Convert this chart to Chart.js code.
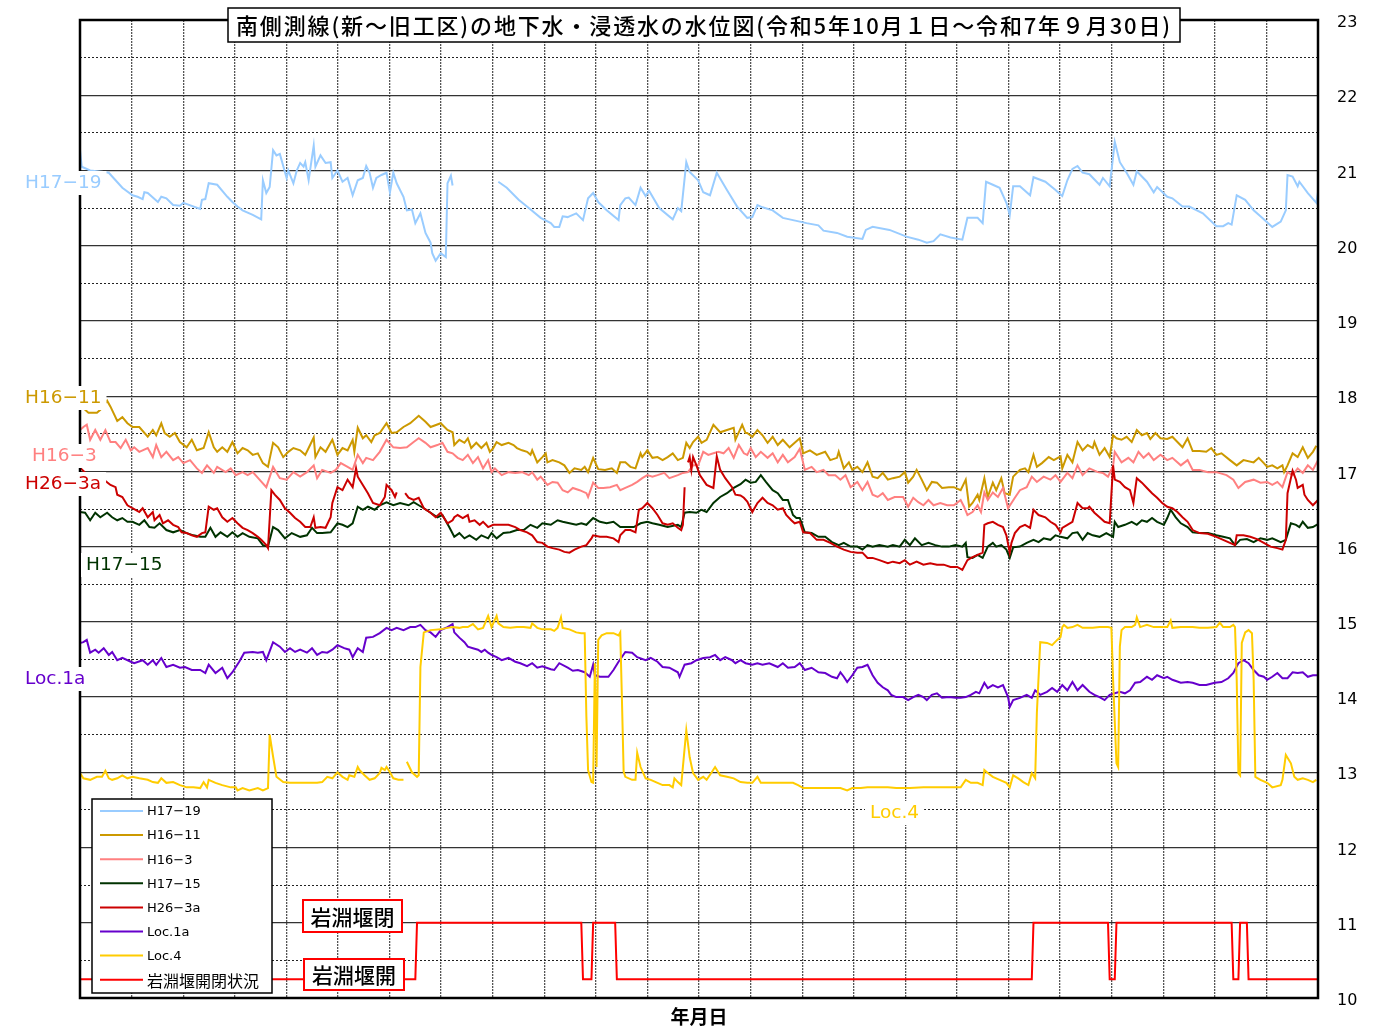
<!DOCTYPE html>
<html lang="ja">
<head>
<meta charset="utf-8">
<title>南側測線 地下水・浸透水の水位図</title>
<script src="https://cdn.jsdelivr.net/npm/chart.js@4.4.1/dist/chart.umd.min.js"></script>
<style>
    html, body { margin: 0; padding: 0; background: #fff; overflow: hidden; }
    .chart-box { position: relative; width: 1383px; height: 1034px; }
</style>
</head>
<body>
<div class="chart-box"><canvas id="waterLevelChart"></canvas></div>
<script>
// x = 経過日数 (令和5年10月1日 = 0 ～ 令和7年9月30日 = 730), y = 水位
const periodDays = 731;
const monthCount = 24;
const levelMin = 10;
const levelMax = 23;
const levelStep = 0.5;

const chartTitle = '南側測線(新～旧工区)の地下水・浸透水の水位図(令和5年10月１日～令和7年９月30日)';
const axisTitle = '年月日';
const seriesNames = ['H17−19', 'H16−11', 'H16−3', 'H17−15', 'H26−3a', 'Loc.1a', 'Loc.4', '岩淵堰開閉状況'];

const h1719 = [
    [0,21.27],[1,21.05],[6,21.0],[14,20.98],[17,20.97],[21,20.87],[25,20.77],[31,20.67],[34,20.65],[37,20.62],
    [38,20.71],[40,20.7],[46,20.58],[48,20.65],[51,20.63],[55,20.54],[59,20.53],[61,20.57],[71,20.49],[72,20.61],
    [74,20.62],[76,20.83],[81,20.81],[87,20.65],[90,20.58],[93,20.52],[96,20.47],[102,20.41],[107,20.35],[108,20.87],
    [110,20.7],[112,20.78],[114,21.27],[116,21.2],[118,21.22],[122,20.9],[123,21.0],[126,20.83],[128,21.0],[130,21.1],
    [132,21.05],[133,21.11],[135,20.87],[138,21.33],[139,21.05],[142,21.2],[145,21.1],[148,21.11],[149,20.9],[152,21.0],
    [155,20.85],[158,20.9],[161,20.67],[164,20.87],[167,20.9],[169,21.06],[171,20.97],[173,20.77],[175,20.9],[178,20.94],
    [181,20.97],[183,20.71],[185,20.97],[187,20.83],[191,20.65],[193,20.47],[196,20.48],[198,20.3],[201,20.43],[204,20.17],
    [207,20.04],[208,19.9],[210,19.8],[213,19.9],[216,19.85],[217,20.83],[219,20.93],[220,20.8],[233,null],[247,20.85],
    [252,20.77],[259,20.61],[265,20.5],[272,20.37],[278,20.3],[280,20.25],[283,20.25],[285,20.39],[288,20.38],[289,20.39],
    [293,20.43],[297,20.34],[300,20.63],[303,20.7],[306,20.58],[311,20.47],[318,20.34],[319,20.54],[322,20.63],[324,20.64],
    [328,20.54],[331,20.77],[334,20.66],[336,20.73],[342,20.5],[350,20.35],[353,20.5],[355,20.46],[358,21.11],[360,20.98],
    [365,20.87],[368,20.71],[372,20.67],[376,20.97],[382,20.74],[388,20.52],[394,20.37],[397,20.38],[400,20.54],[403,20.51],
    [409,20.47],[415,20.37],[423,20.33],[429,20.3],[436,20.27],[439,20.2],[447,20.17],[453,20.12],[462,20.09],[464,20.21],
    [468,20.25],[478,20.21],[488,20.12],[495,20.08],[500,20.04],[504,20.06],[508,20.15],[514,20.11],[521,20.08],[524,20.37],
    [530,20.37],[533,20.3],[535,20.85],[539,20.81],[543,20.77],[547,20.57],[549,20.41],[551,20.79],[555,20.79],[561,20.67],
    [563,20.91],[570,20.85],[576,20.74],[580,20.66],[583,20.87],[586,21.02],[589,21.06],[592,20.97],[596,20.95],[602,20.81],
    [604,20.9],[608,20.79],[611,21.38],[614,21.11],[618,20.97],[622,20.81],[624,20.99],[630,20.85],[634,20.71],[636,20.78],
    [642,20.65],[645,20.63],[651,20.52],[655,20.52],[663,20.43],[671,20.26],[675,20.26],[678,20.3],[680,20.28],[683,20.67],
    [688,20.61],[693,20.47],[698,20.37],[704,20.25],[709,20.32],[712,20.47],[713,20.94],[716,20.92],[719,20.79],[720,20.85],
    [725,20.7],[730,20.57],[731,20.71]
];

const h1611 = [
    [0,17.88],[5,17.78],[10,17.78],[12,17.82],[16,17.94],[18,17.86],[22,17.67],[25,17.72],[28,17.64],[31,17.59],
    [35,17.59],[40,17.46],[43,17.55],[45,17.48],[48,17.64],[50,17.51],[53,17.46],[56,17.51],[59,17.39],[63,17.32],
    [66,17.42],[69,17.28],[73,17.31],[76,17.52],[79,17.32],[81,17.26],[84,17.32],[87,17.26],[90,17.39],[93,17.24],
    [96,17.31],[99,17.28],[102,17.22],[105,17.24],[108,17.11],[111,17.06],[114,17.38],[117,17.32],[120,17.19],[123,17.26],
    [126,17.31],[130,17.28],[133,17.22],[135,17.31],[138,17.45],[139,17.19],[142,17.32],[145,17.26],[149,17.42],[152,17.22],
    [155,17.31],[158,17.28],[161,17.42],[162,17.26],[164,17.58],[167,17.44],[169,17.48],[172,17.39],[174,17.48],[177,17.51],
    [181,17.64],[184,17.51],[187,17.52],[191,17.59],[195,17.64],[200,17.74],[204,17.66],[207,17.59],[213,17.64],[217,17.55],
    [220,17.52],[221,17.35],[224,17.42],[227,17.38],[229,17.44],[231,17.31],[234,17.38],[237,17.31],[240,17.38],[242,17.26],
    [244,17.31],[246,17.39],[249,17.35],[253,17.38],[256,17.35],[258,17.31],[261,17.28],[264,17.26],[266,17.22],[267,17.28],
    [270,17.12],[273,17.19],[275,17.24],[276,17.12],[279,17.15],[283,17.12],[286,17.08],[289,16.98],[292,17.04],[296,17.02],
    [298,17.06],[300,16.99],[303,17.18],[306,17.03],[310,17.02],[314,17.04],[317,16.98],[319,17.12],[322,17.12],[325,17.06],
    [328,17.04],[331,17.24],[332,17.19],[335,17.28],[338,17.18],[341,17.19],[344,17.15],[347,17.19],[350,17.24],[353,17.15],
    [356,17.18],[358,17.38],[360,17.31],[362,17.39],[365,17.46],[367,17.38],[370,17.42],[374,17.62],[378,17.52],[382,17.55],
    [386,17.58],[387,17.42],[391,17.62],[393,17.51],[394,17.51],[397,17.46],[400,17.55],[403,17.48],[406,17.38],[409,17.46],
    [412,17.35],[415,17.42],[419,17.32],[422,17.38],[425,17.44],[427,17.24],[431,17.28],[435,17.22],[440,17.26],[443,17.15],
    [447,17.18],[448,17.26],[451,17.04],[454,17.12],[456,17.02],[459,17.06],[462,16.99],[465,17.12],[468,16.93],[471,16.91],
    [474,16.98],[477,16.89],[480,16.91],[484,16.93],[487,16.99],[489,16.85],[492,16.93],[494,17.02],[497,16.89],[500,16.75],
    [503,16.86],[506,16.85],[509,16.78],[513,16.79],[516,16.79],[520,16.75],[523,16.89],[525,16.53],[527,16.58],[530,16.69],
    [531,16.62],[534,16.91],[536,16.66],[539,16.85],[541,16.75],[544,16.91],[546,16.71],[549,16.69],[551,16.93],[555,17.02],
    [558,17.04],[560,16.99],[563,17.22],[565,17.06],[568,17.11],[572,17.19],[575,17.15],[579,17.2],[580,17.04],[583,17.22],
    [586,17.12],[589,17.39],[592,17.28],[595,17.35],[598,17.31],[599,17.39],[602,17.22],[605,17.31],[608,17.19],[610,17.48],
    [612,17.44],[615,17.42],[618,17.46],[621,17.39],[624,17.55],[627,17.48],[630,17.51],[632,17.43],[635,17.51],[638,17.44],
    [642,17.43],[645,17.46],[648,17.39],[651,17.32],[654,17.44],[657,17.27],[661,17.27],[665,17.26],[668,17.31],[671,17.22],
    [674,17.24],[679,17.15],[683,17.08],[687,17.15],[693,17.12],[696,17.18],[699,17.11],[701,17.06],[704,17.08],[707,17.04],
    [710,17.08],[711,16.99],[713,17.08],[716,17.24],[719,17.19],[722,17.32],[725,17.18],[728,17.26],[730,17.34]
];

const h163 = [
    [0,17.55],[2,17.59],[4,17.62],[6,17.42],[9,17.55],[12,17.42],[15,17.55],[18,17.39],[21,17.39],[24,17.31],
    [27,17.42],[30,17.28],[32,17.32],[35,17.26],[40,17.31],[43,17.19],[45,17.35],[48,17.19],[51,17.26],[55,17.15],
    [58,17.19],[61,17.11],[65,17.15],[69,17.04],[72,16.98],[75,17.08],[79,16.98],[81,17.06],[86,16.99],[89,17.04],
    [92,16.95],[96,16.99],[99,16.95],[102,16.99],[106,16.89],[110,16.79],[114,17.06],[118,16.91],[122,16.89],[126,16.99],
    [130,16.93],[134,16.99],[138,17.08],[140,16.91],[143,17.02],[148,16.98],[151,17.02],[154,17.11],[158,17.06],[161,17.02],
    [164,17.22],[167,17.11],[169,17.18],[173,17.15],[177,17.26],[181,17.42],[185,17.32],[189,17.31],[193,17.32],[197,17.39],
    [200,17.44],[204,17.38],[207,17.32],[211,17.35],[214,17.38],[217,17.26],[220,17.24],[223,17.18],[226,17.15],[229,17.22],
    [232,17.11],[235,17.19],[238,17.04],[241,17.15],[243,16.99],[245,17.04],[249,16.95],[253,16.99],[257,16.98],[261,16.99],
    [265,16.95],[267,16.99],[270,16.89],[272,16.93],[276,16.82],[279,16.86],[282,16.85],[285,16.75],[288,16.72],[291,16.78],
    [295,16.75],[299,16.71],[300,16.66],[303,16.85],[306,16.78],[309,16.78],[313,16.79],[317,16.82],[319,16.75],[322,16.78],
    [326,16.82],[329,16.86],[332,16.91],[335,16.95],[338,16.93],[341,16.95],[345,16.98],[348,16.91],[353,16.95],[356,16.98],
    [359,16.99],[362,17.08],[365,17.08],[368,17.26],[371,17.22],[374,17.24],[377,17.26],[380,17.24],[383,17.31],[386,17.18],
    [389,17.35],[392,17.24],[394,17.22],[396,17.31],[399,17.19],[402,17.26],[406,17.18],[409,17.24],[412,17.12],[415,17.22],
    [418,17.12],[422,17.19],[425,17.3],[428,17.02],[432,17.06],[435,16.99],[439,17.02],[442,16.95],[446,16.95],[449,16.89],
    [452,16.95],[455,16.79],[459,16.86],[462,16.75],[465,16.86],[468,16.69],[471,16.66],[474,16.71],[477,16.62],[481,16.66],
    [486,16.66],[489,16.53],[492,16.65],[495,16.59],[498,16.55],[501,16.62],[504,16.55],[508,16.58],[512,16.55],[516,16.55],
    [520,16.62],[522,16.53],[524,16.42],[527,16.46],[530,16.55],[532,16.46],[534,16.72],[536,16.62],[539,16.72],[542,16.66],
    [545,16.78],[548,16.51],[552,16.65],[555,16.75],[559,16.79],[562,16.93],[565,16.86],[569,16.93],[573,16.89],[576,16.95],
    [579,16.86],[583,16.98],[586,16.91],[589,17.08],[592,16.95],[596,17.04],[601,16.99],[604,16.98],[607,16.93],[610,17.07],
    [611,17.26],[615,17.12],[619,17.18],[622,17.12],[625,17.26],[628,17.18],[631,17.24],[634,17.15],[638,17.22],[642,17.15],
    [645,17.18],[650,17.08],[654,17.15],[657,17.02],[661,17.02],[666,16.99],[671,16.99],[677,16.95],[681,16.89],[684,16.78],
    [688,16.86],[693,16.89],[697,16.85],[701,16.86],[704,16.82],[707,16.86],[710,16.79],[713,16.99],[716,16.95],[719,17.04],
    [722,16.98],[725,17.08],[728,17.02],[731,17.15]
];

const h1715 = [
    [0,16.46],[3,16.45],[6,16.35],[9,16.45],[12,16.39],[16,16.45],[19,16.39],[22,16.35],[25,16.38],[28,16.33],
    [31,16.33],[35,16.29],[38,16.35],[41,16.26],[44,16.25],[47,16.31],[51,16.22],[55,16.19],[59,16.22],[63,16.18],
    [67,16.15],[71,16.13],[74,16.13],[77,16.25],[80,16.13],[83,16.19],[87,16.13],[90,16.19],[93,16.13],[96,16.18],
    [100,16.13],[105,16.11],[108,16.02],[111,16.0],[114,16.26],[117,16.22],[121,16.11],[125,16.18],[130,16.13],[134,16.15],
    [137,16.25],[140,16.18],[143,16.18],[148,16.19],[152,16.31],[155,16.29],[158,16.26],[161,16.31],[164,16.53],[167,16.49],
    [170,16.53],[174,16.49],[177,16.55],[181,16.59],[185,16.55],[189,16.58],[194,16.55],[197,16.59],[200,16.55],[203,16.51],
    [207,16.45],[211,16.39],[214,16.42],[218,16.26],[221,16.13],[224,16.18],[227,16.11],[230,16.15],[234,16.09],[237,16.15],
    [241,16.11],[243,16.18],[246,16.11],[250,16.18],[254,16.19],[258,16.22],[262,16.22],[266,16.29],[270,16.25],[273,16.31],
    [278,16.29],[282,16.35],[285,16.33],[289,16.31],[293,16.29],[296,16.31],[299,16.29],[303,16.38],[307,16.33],[311,16.31],
    [315,16.33],[319,16.26],[323,16.26],[327,16.26],[331,16.31],[335,16.33],[338,16.31],[342,16.29],[347,16.26],[353,16.29],
    [355,16.26],[357,16.45],[360,16.46],[364,16.45],[367,16.49],[370,16.46],[374,16.58],[378,16.66],[382,16.71],[386,16.78],
    [390,16.83],[393,16.89],[396,16.85],[399,16.86],[402,16.95],[405,16.86],[409,16.75],[412,16.71],[415,16.62],[418,16.62],
    [421,16.42],[423,16.38],[425,16.38],[428,16.19],[432,16.18],[436,16.13],[440,16.13],[444,16.06],[448,16.02],[451,16.05],
    [455,16.0],[459,16.0],[462,15.96],[465,16.02],[468,16.0],[472,16.02],[477,16.0],[480,16.02],[484,16.0],[487,16.09],
    [490,16.02],[493,16.11],[497,16.02],[501,16.05],[505,16.02],[509,16.0],[513,16.0],[517,16.02],[521,16.0],[523,16.05],
    [524,15.86],[527,15.85],[530,15.89],[533,15.85],[536,16.0],[539,16.05],[541,16.0],[544,16.02],[547,15.96],[549,15.85],
    [551,15.99],[555,16.0],[559,16.05],[563,16.09],[566,16.06],[569,16.11],[573,16.09],[576,16.15],[579,16.13],[583,16.11],
    [586,16.18],[589,16.19],[592,16.09],[595,16.18],[598,16.15],[602,16.13],[606,16.18],[610,16.13],[611,16.33],[613,16.26],
    [617,16.29],[621,16.33],[624,16.29],[627,16.35],[630,16.33],[633,16.38],[636,16.33],[640,16.29],[642,16.38],[644,16.49],
    [647,16.39],[650,16.31],[654,16.26],[657,16.19],[661,16.18],[666,16.18],[671,16.15],[675,16.13],[679,16.11],[682,16.02],
    [685,16.09],[689,16.1],[693,16.06],[697,16.11],[701,16.09],[704,16.11],[709,16.06],[712,16.09],[715,16.31],[718,16.29],
    [720,16.26],[722,16.33],[725,16.25],[728,16.26],[731,16.3]
];

const h263a = [
    [0,17.05],[7,16.9],[12,16.85],[14,16.89],[18,16.82],[21,16.79],[22,16.69],[25,16.66],[28,16.55],[31,16.51],
    [35,16.46],[37,16.51],[40,16.39],[43,16.46],[44,16.35],[47,16.42],[49,16.31],[52,16.35],[55,16.29],[58,16.26],
    [60,16.19],[63,16.18],[66,16.15],[69,16.13],[72,16.18],[74,16.19],[76,16.53],[79,16.49],[81,16.51],[84,16.39],
    [87,16.33],[90,16.38],[93,16.31],[96,16.25],[99,16.22],[102,16.18],[105,16.13],[107,16.09],[110,16.02],[111,15.98],
    [113,16.75],[115,16.69],[118,16.62],[121,16.51],[124,16.45],[127,16.38],[130,16.33],[133,16.26],[136,16.26],[138,16.39],
    [139,16.25],[142,16.26],[145,16.25],[148,16.39],[149,16.58],[152,16.79],[155,16.75],[158,16.89],[161,16.79],[163,17.04],
    [164,16.93],[167,16.82],[170,16.71],[173,16.58],[177,16.55],[180,16.66],[181,16.82],[184,16.75],[186,16.66],[187,16.72],
    [189,null],[192,16.71],[194,16.65],[197,16.62],[200,16.65],[203,16.51],[207,16.45],[210,16.39],[213,16.45],[217,16.31],
    [220,16.35],[221,16.39],[223,16.42],[226,16.38],[229,16.42],[230,16.33],[233,16.35],[236,16.29],[238,16.33],[241,16.26],
    [244,16.29],[248,16.29],[253,16.29],[257,16.26],[260,16.22],[264,16.19],[267,16.15],[270,16.06],[273,16.05],[276,16.0],
    [279,15.98],[283,15.96],[286,15.93],[289,15.92],[292,15.96],[296,16.0],[299,16.02],[302,16.11],[303,16.15],[307,16.13],
    [311,16.13],[315,16.11],[318,16.06],[319,16.15],[322,16.22],[325,16.22],[328,16.19],[330,16.49],[332,16.51],[335,16.58],
    [338,16.51],[341,16.42],[344,16.31],[347,16.29],[350,16.31],[353,16.25],[355,16.22],[356,16.29],[357,16.79],[358,null],
    [359,17.12],[360,17.19],[361,17.02],[362,17.19],[364,17.08],[366,16.95],[370,16.82],[374,16.78],[376,17.2],[378,17.02],
    [381,16.91],[385,16.79],[387,16.69],[390,16.68],[392,16.65],[394,16.6],[397,16.46],[400,16.58],[403,16.65],[406,16.58],
    [409,16.55],[412,16.49],[415,16.51],[417,16.42],[420,16.35],[422,16.31],[425,16.33],[427,16.19],[431,16.18],[435,16.09],
    [439,16.09],[443,16.05],[447,16.0],[451,15.96],[455,15.93],[459,15.92],[462,15.92],[465,15.85],[468,15.85],[472,15.82],
    [477,15.78],[480,15.8],[484,15.78],[487,15.82],[490,15.76],[494,15.8],[498,15.76],[502,15.78],[506,15.76],[510,15.76],
    [514,15.73],[518,15.73],[521,15.69],[524,15.82],[527,15.86],[530,15.89],[533,15.92],[534,16.29],[536,16.31],[539,16.33],
    [542,16.29],[545,16.26],[547,16.15],[549,15.92],[550,16.05],[552,16.18],[555,16.26],[558,16.29],[561,16.25],[563,16.49],
    [566,16.42],[570,16.39],[573,16.33],[576,16.29],[579,16.19],[580,16.25],[583,16.29],[586,16.33],[589,16.58],[592,16.51],
    [595,16.51],[596,16.53],[599,16.45],[602,16.39],[605,16.33],[608,16.31],[610,17.08],[611,16.89],[614,16.86],[617,16.79],
    [620,16.75],[622,16.58],[624,16.91],[627,16.85],[630,16.78],[633,16.71],[636,16.65],[639,16.58],[642,16.53],[645,16.51],
    [648,16.46],[651,16.39],[654,16.33],[657,16.22],[661,16.18],[666,16.17],[671,16.13],[675,16.09],[679,16.05],[682,16.02],
    [683,16.15],[687,16.15],[691,16.13],[695,16.1],[699,16.05],[703,16.0],[707,15.98],[710,15.96],[712,16.09],[713,16.71],
    [716,17.01],[718,16.89],[719,16.78],[722,16.82],[723,16.69],[725,16.62],[728,16.55],[731,16.62]
];

const loc1a = [
    [0,14.72],[2,14.73],[4,14.76],[6,14.59],[9,14.63],[11,14.59],[14,14.65],[17,14.56],[19,14.6],[22,14.49],
    [25,14.52],[30,14.47],[32,14.45],[37,14.49],[40,14.43],[43,14.49],[45,14.43],[48,14.52],[51,14.4],[55,14.43],
    [59,14.39],[62,14.4],[66,14.36],[71,14.36],[74,14.32],[76,14.43],[80,14.32],[84,14.39],[87,14.25],[90,14.33],
    [94,14.47],[97,14.59],[102,14.6],[105,14.59],[108,14.6],[110,14.49],[114,14.73],[118,14.67],[121,14.6],[124,14.65],
    [127,14.6],[130,14.63],[134,14.59],[137,14.65],[140,14.56],[143,14.6],[146,14.59],[149,14.63],[152,14.69],[156,14.65],
    [159,14.63],[161,14.53],[164,14.65],[167,14.6],[169,14.79],[173,14.8],[177,14.85],[181,14.92],[184,14.89],[187,14.92],
    [191,14.89],[195,14.93],[198,14.93],[201,14.96],[204,14.89],[207,14.86],[210,14.8],[213,14.89],[217,14.93],[220,14.97],
    [221,14.86],[224,14.79],[227,14.73],[229,14.67],[232,14.65],[235,14.63],[237,14.6],[239,14.63],[241,14.59],[243,14.56],
    [246,14.53],[249,14.49],[253,14.52],[257,14.47],[260,14.45],[264,14.41],[267,14.45],[270,14.39],[273,14.41],[278,14.37],
    [280,14.36],[283,14.45],[288,14.39],[291,14.35],[294,14.36],[298,14.33],[301,14.27],[303,14.43],[304,14.29],[307,14.27],
    [312,14.27],[315,14.36],[318,14.47],[322,14.6],[326,14.59],[329,14.53],[334,14.49],[337,14.52],[341,14.47],[344,14.4],
    [348,14.39],[353,14.33],[354,14.27],[357,14.43],[361,14.45],[364,14.49],[368,14.52],[372,14.53],[375,14.56],[378,14.49],
    [381,14.53],[385,14.49],[387,14.45],[390,14.49],[393,14.45],[397,14.43],[400,14.45],[403,14.43],[407,14.45],[412,14.4],
    [415,14.45],[418,14.39],[422,14.4],[425,14.45],[428,14.36],[432,14.39],[436,14.33],[440,14.32],[444,14.27],[447,14.25],
    [449,14.33],[451,14.27],[453,14.2],[456,14.29],[459,14.39],[462,14.4],[465,14.43],[468,14.29],[471,14.19],[474,14.13],
    [477,14.09],[479,14.03],[482,14.0],[486,14.0],[489,13.96],[492,14.0],[495,14.03],[498,14.0],[500,13.96],[503,14.03],
    [506,14.05],[509,13.99],[513,14.0],[517,13.99],[520,13.99],[523,14.0],[526,14.03],[529,14.07],[531,14.05],[534,14.19],
    [536,14.12],[539,14.16],[542,14.13],[545,14.16],[548,14.0],[549,13.87],[551,13.96],[555,13.99],[559,14.03],[562,13.99],
    [564,14.09],[567,14.03],[571,14.07],[574,14.12],[577,14.07],[580,14.16],[583,14.09],[586,14.2],[589,14.09],[592,14.16],
    [596,14.07],[599,14.03],[602,14.0],[605,13.96],[608,14.03],[611,14.05],[614,14.07],[617,14.05],[620,14.09],[623,14.19],
    [626,14.2],[630,14.27],[633,14.23],[636,14.29],[640,14.25],[642,14.27],[645,14.23],[650,14.19],[654,14.2],[657,14.19],
    [661,14.16],[665,14.16],[670,14.19],[674,14.2],[678,14.25],[681,14.32],[684,14.45],[687,14.49],[690,14.45],[693,14.36],
    [696,14.29],[699,14.27],[701,14.23],[704,14.27],[707,14.32],[710,14.25],[713,14.25],[716,14.33],[719,14.32],[722,14.33],
    [725,14.27],[728,14.29],[731,14.29]
];

const loc4 = [
    [0,12.99],[2,12.92],[6,12.9],[10,12.94],[13,12.94],[15,13.02],[17,12.92],[19,12.9],[22,12.92],[25,12.96],
    [28,12.92],[31,12.94],[35,12.92],[40,12.9],[43,12.87],[46,12.86],[48,12.92],[51,12.86],[55,12.87],[59,12.83],
    [63,12.8],[67,12.8],[71,12.79],[73,12.87],[75,12.8],[76,12.9],[80,12.86],[84,12.83],[89,12.8],[92,12.8],
    [93,12.76],[96,12.79],[100,12.76],[105,12.79],[108,12.76],[111,12.79],[112,13.5],[114,13.21],[116,12.94],[120,12.87],
    [124,12.86],[128,12.86],[132,12.86],[136,12.86],[140,12.86],[143,12.87],[146,12.94],[149,12.92],[152,13.0],[155,12.94],
    [158,12.9],[159,12.96],[162,12.94],[164,13.07],[165,13.03],[168,12.96],[171,12.9],[174,12.92],[177,12.99],[178,13.06],
    [180,13.03],[181,13.07],[183,13.0],[185,12.92],[188,12.9],[191,12.9],[192,null],[193,13.14],[196,13.0],[199,12.94],
    [200,12.96],[201,14.4],[203,14.86],[207,14.89],[213,14.9],[217,14.92],[220,14.93],[224,14.92],[226,14.93],[229,14.93],
    [232,14.97],[235,14.9],[238,14.92],[241,15.08],[243,14.93],[246,15.08],[247,14.98],[250,14.93],[254,14.92],[258,14.93],
    [262,14.93],[266,14.92],[267,14.98],[270,14.92],[273,14.9],[278,14.9],[280,14.88],[282,14.92],[284,15.06],[285,14.92],
    [289,14.9],[293,14.86],[296,14.85],[298,14.85],[299,13.74],[300,13.03],[302,12.87],[303,12.86],[304,14.45],[305,13.07],
    [306,14.76],[308,14.82],[311,14.85],[315,14.85],[318,14.82],[319,14.86],[320,13.96],[321,13.01],[322,12.94],[326,12.9],
    [328,12.9],[329,13.26],[331,13.07],[334,12.92],[337,12.9],[341,12.86],[344,12.83],[348,12.83],[350,12.8],[351,12.92],
    [353,12.87],[355,12.83],[358,13.56],[360,13.2],[362,12.99],[365,12.9],[368,12.94],[370,12.9],[373,13.0],[375,13.07],
    [378,12.96],[382,12.94],[386,12.92],[390,12.87],[394,12.86],[397,12.86],[400,12.94],[402,12.86],[406,12.86],[409,12.86],
    [413,12.86],[421,12.86],[424,12.83],[427,12.79],[433,12.79],[441,12.79],[449,12.79],[453,12.76],[456,12.79],[461,12.79],
    [465,12.8],[468,12.8],[477,12.8],[482,12.79],[490,12.79],[498,12.8],[504,12.8],[510,12.8],[516,12.8],[520,12.8],
    [523,12.9],[526,12.86],[530,12.86],[533,12.83],[534,13.03],[536,12.99],[539,12.94],[543,12.9],[547,12.86],[549,12.8],
    [551,12.96],[554,12.92],[557,12.87],[560,12.83],[562,12.99],[564,12.92],[565,13.79],[567,14.73],[571,14.72],[574,14.69],
    [577,14.76],[579,14.8],[580,14.93],[581,14.96],[583,14.92],[586,14.93],[589,14.96],[592,14.92],[595,14.92],[598,14.92],
    [602,14.93],[607,14.93],[609,14.92],[610,14.23],[612,13.12],[613,13.07],[614,14.67],[615,14.89],[617,14.93],[621,14.93],
    [623,14.96],[624,15.06],[626,14.93],[630,14.96],[634,14.93],[638,14.93],[642,14.93],[644,15.02],[645,14.92],[650,14.93],
    [654,14.93],[657,14.93],[661,14.92],[666,14.92],[671,14.93],[673,14.99],[675,14.93],[679,14.93],[681,14.96],[682,14.93],
    [683,14.23],[684,12.99],[685,12.96],[686,14.72],[688,14.86],[690,14.89],[692,14.85],[693,14.23],[694,12.94],[697,12.9],
    [701,12.86],[704,12.8],[709,12.83],[710,12.9],[712,13.23],[715,13.12],[717,12.94],[719,12.9],[722,12.92],[725,12.9],
    [728,12.87],[730,12.9]
];

// 岩淵堰: 10.25 = 開, 11 = 閉
const gateStatus = [
    [0,10.25],[198,10.25],[199,11],[296,11],[297,10.25],[302,10.25],[303,11],[316,11],[317,10.25],[562,10.25],
    [563,11],[607,11],[608,10.25],[611,10.25],[612,11],[680,11],[681,10.25],[684,10.25],[685,11],[689,11],
    [690,10.25],[731,10.25]
];

const seriesData = [h1719, h1611, h163, h1715, h263a, loc1a, loc4, gateStatus];
const seriesColors = ['#99CCFF', '#CC9900', '#FF8080', '#003300', '#CC0000', '#6600CC', '#FFCC00', '#FF0000'];

const latinFont = '"DejaVu Sans", sans-serif';
const jpFont = '"Noto Sans CJK JP", sans-serif';

const sideLabels = [
    { index: 0, x: 25, y: 183 },
    { index: 1, x: 25, y: 398 },
    { index: 2, x: 32, y: 456 },
    { index: 4, x: 25, y: 484 },
    { index: 3, x: 86, y: 565 },
    { index: 5, x: 25, y: 679 },
    { index: 6, x: 870, y: 813 },
];

const gateNotes = [
    { text: '岩淵堰閉', x: 303, y: 900, w: 99, h: 32 },
    { text: '岩淵堰開', x: 304, y: 959, w: 100, h: 31 },
];

const overlayPlugin = {
    id: 'overlay',
    afterDatasetsDraw(chart) {
        const { ctx, chartArea: a } = chart;
        ctx.save();
        ctx.strokeStyle = '#000';
        ctx.lineWidth = 2.5;
        ctx.strokeRect(a.left, a.top, a.right - a.left, a.bottom - a.top);
        ctx.restore();
    },
    afterDraw(chart) {
        const { ctx } = chart;
        const names = chart.data.datasets.map((d) => d.label);
        ctx.save();
        ctx.textBaseline = 'middle';

        // series names beside the lines
        ctx.font = `18.5px ${latinFont}`;
        sideLabels.forEach((l) => {
            const text = names[l.index];
            const w = ctx.measureText(text).width;
            ctx.fillStyle = '#fff';
            ctx.fillRect(l.x - 5, l.y - 12, w + 10, 24);
            ctx.fillStyle = seriesColors[l.index];
            ctx.fillText(text, l.x, l.y);
        });

        // gate notes
        ctx.font = `500 21px ${jpFont}`;
        ctx.textAlign = 'center';
        gateNotes.forEach((n) => {
            ctx.fillStyle = '#fff';
            ctx.fillRect(n.x, n.y, n.w, n.h);
            ctx.strokeStyle = '#FF0000';
            ctx.lineWidth = 2;
            ctx.strokeRect(n.x, n.y, n.w, n.h);
            ctx.fillStyle = '#000';
            ctx.fillText(n.text, n.x + n.w / 2, n.y + n.h / 2 + 1);
        });

        // legend
        const lx = 92, ly = 799, lw = 180, lh = 194;
        ctx.fillStyle = '#fff';
        ctx.fillRect(lx, ly, lw, lh);
        ctx.strokeStyle = '#000';
        ctx.lineWidth = 1.5;
        ctx.strokeRect(lx, ly, lw, lh);
        ctx.textAlign = 'left';
        chart.data.datasets.forEach((ds, i) => {
            const y = ly + 12 + i * 24.1;
            ctx.strokeStyle = ds.borderColor;
            ctx.lineWidth = 2;
            ctx.beginPath();
            ctx.moveTo(100, y);
            ctx.lineTo(143, y);
            ctx.stroke();
            ctx.fillStyle = '#000';
            ctx.font = /[^\x00-\x7F−]/.test(ds.label) ? `16px ${jpFont}` : `13px ${latinFont}`;
            ctx.fillText(ds.label, 147, y + 1);
        });

        // title box
        ctx.font = `500 22px ${jpFont}`;
        let tw = ctx.measureText(chartTitle).width;
        const targetW = 936;
        if ('letterSpacing' in ctx) {
            ctx.letterSpacing = ((targetW - tw) / [...chartTitle].length).toFixed(2) + 'px';
            tw = ctx.measureText(chartTitle).width;
        }
        const tx = 704 - tw / 2;
        ctx.fillStyle = '#fff';
        ctx.fillRect(228, 8, 952, 34);
        ctx.strokeStyle = '#000';
        ctx.lineWidth = 1.5;
        ctx.strokeRect(228, 8, 952, 34);
        ctx.fillStyle = '#000';
        ctx.fillText(chartTitle, tx, 26);
        ctx.restore();
    },
};

function initWaterLevelChart() {
    const canvas = document.getElementById('waterLevelChart');
    if (!canvas) return;

    new Chart(canvas, {
        type: 'line',
        data: {
            datasets: seriesData.map((pts, i) => ({
                label: seriesNames[i],
                data: pts.map(([x, y]) => ({ x, y })),
                borderColor: seriesColors[i],
                backgroundColor: seriesColors[i],
                borderWidth: 2,
                pointRadius: 0,
                tension: 0,
                spanGaps: false,
                order: seriesData.length - i,
            })),
        },
        options: {
            responsive: true,
            maintainAspectRatio: false,
            animation: false,
            layout: { padding: { left: 80, top: 20, right: 0, bottom: 0 } },
            plugins: {
                legend: { display: false },
                tooltip: { enabled: false },
            },
            scales: {
                x: {
                    type: 'linear',
                    min: 0,
                    max: periodDays,
                    ticks: { display: false, stepSize: periodDays / monthCount, autoSkip: false },
                    grid: { color: '#555', lineWidth: 1.3, drawTicks: false },
                    border: { display: false, dash: [2, 1] },
                    title: {
                        display: true,
                        text: axisTitle,
                        color: '#000',
                        font: { family: jpFont, size: 19, weight: 'bold' },
                        padding: { top: 0, bottom: 6 },
                    },
                    afterFit: (scale) => {
                        scale.height = 36;
                        scale.paddingLeft = 0;
                        scale.paddingRight = 0;
                    },
                },
                y: {
                    position: 'right',
                    min: levelMin,
                    max: levelMax,
                    ticks: {
                        stepSize: levelStep,
                        autoSkip: false,
                        padding: 19,
                        labelOffset: 3,
                        color: '#000',
                        font: { family: latinFont, size: 16 },
                        callback: (value) => (Number.isInteger(value) ? value : ''),
                    },
                    grid: {
                        drawTicks: false,
                        color: (ctx) => (Number.isInteger(ctx.tick.value) ? '#333' : '#222'),
                        lineWidth: (ctx) => (Number.isInteger(ctx.tick.value) ? 1.3 : 1),
                    },
                    border: {
                        display: false,
                        dash: (ctx) => (ctx.tick && !Number.isInteger(ctx.tick.value) ? [2, 2] : []),
                    },
                    afterFit: (scale) => {
                        scale.width = 65;
                        scale.paddingTop = 0;
                        scale.paddingBottom = 0;
                    },
                },
            },
        },
        plugins: [overlayPlugin],
    });
}

document.addEventListener('DOMContentLoaded', () => {
    initWaterLevelChart();
});
</script>
</body>
</html>
